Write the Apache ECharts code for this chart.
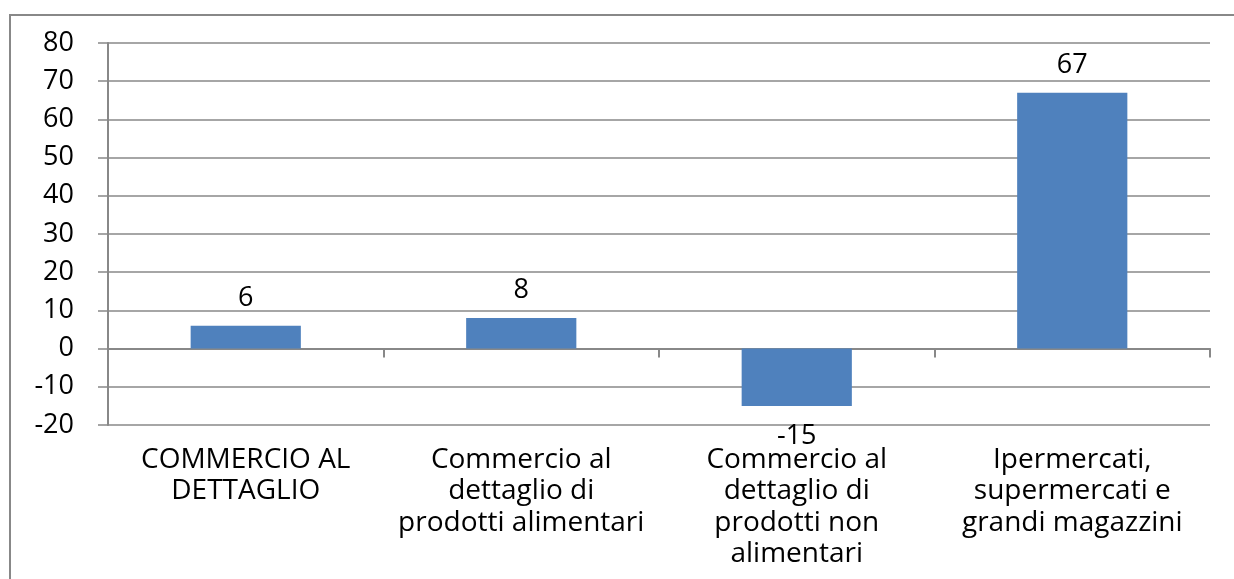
<!DOCTYPE html>
<html>
<head>
<meta charset="utf-8">
<script src="https://cdn.jsdelivr.net/npm/echarts@6/dist/echarts.min.js"></script>
<style>
html,body{margin:0;padding:0;background:#fff;}
#chart{width:1234px;height:579px;}
</style>
</head>
<body>
<div id="chart"></div>
<script>
const categories = [
  "COMMERCIO AL\nDETTAGLIO",
  "Commercio al\ndettaglio di\nprodotti alimentari",
  "Commercio al\ndettaglio di\nprodotti non\nalimentari",
  "Ipermercati,\nsupermercati e\ngrandi magazzini"
];
const values = [6, 8, -15, 67];
const yTicks = { min: -20, max: 80, interval: 10 };

const FONT = "Open Sans";
const GREY = "#888888";

const chart = echarts.init(document.getElementById('chart'), null, { renderer: 'canvas' });

const barData = values.map(v => ({
  value: v,
  label: v < 0 ? { position: 'bottom', distance: 17 } : { position: 'top', distance: 14 }
}));

chart.setOption({
  animation: false,
  backgroundColor: '#ffffff',
  grid: { left: 108, right: 24, top: 43, bottom: 154, containLabel: false },
  graphic: [{
    type: 'rect',
    shape: { x: 10, y: 15, width: 1400, height: 800 },
    style: { fill: 'none', stroke: GREY, lineWidth: 2 },
    silent: true,
    z: 100
  }],
  xAxis: [{
    type: 'category',
    data: categories,
    position: 'bottom',
    axisLine: { show: true, onZero: true, lineStyle: { color: GREY, width: 2 } },
    axisTick: { show: true, length: 9, lineStyle: { color: GREY, width: 2 } },
    axisLabel: { show: false },
    splitLine: { show: false }
  }, {
    type: 'category',
    data: categories,
    position: 'bottom',
    axisLine: { show: false, onZero: false },
    axisTick: { show: false },
    axisLabel: {
      show: true, interval: 0, margin: 19,
      fontFamily: FONT, fontSize: 28, lineHeight: 31.5, color: '#000', align: 'center'
    },
    splitLine: { show: false }
  }],
  yAxis: {
    type: 'value',
    min: yTicks.min, max: yTicks.max, interval: yTicks.interval,
    axisLine: { show: true, lineStyle: { color: GREY, width: 2 } },
    axisTick: { show: true, length: 10, lineStyle: { color: GREY, width: 1.5 } },
    axisLabel: { margin: 34, fontFamily: FONT, fontSize: 27, color: '#000' },
    splitLine: { show: true, lineStyle: { color: GREY, width: 1.5 } }
  },
  series: [{
    type: 'bar',
    xAxisIndex: 0,
    data: barData,
    barWidth: '40%',
    itemStyle: { color: '#4F81BD' },
    label: {
      show: true, fontFamily: FONT, fontSize: 27, color: '#000'
    }
  }]
});
</script>
</body>
</html>
